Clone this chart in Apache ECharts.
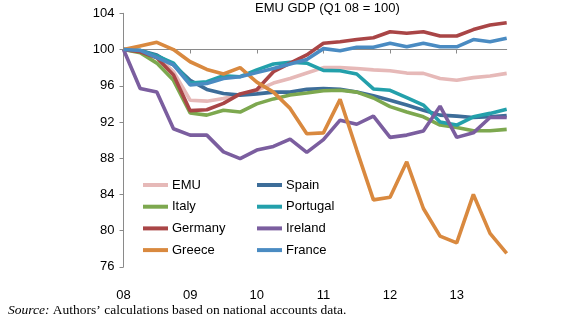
<!DOCTYPE html>
<html>
<head>
<meta charset="utf-8">
<script src="https://cdn.jsdelivr.net/npm/echarts@6/dist/echarts.min.js"></script>
<style>
html,body{margin:0;padding:0;background:#fff;}
#c{width:576px;height:324px;}
</style>
</head>
<body>
<div id="c"></div>
<script>
const years = ['08','09','10','11','12','13'];
const quarters = ['Q1','Q2','Q3','Q4'];
const yTicks = {min: 76, max: 104, step: 4};

const emu      = [100, 99.8, 99.3, 97.55, 94.4, 94.3, 94.6, 95.0, 95.5, 96.3, 96.8, 97.4, 98.0, 98.0, 97.9, 97.75, 97.65, 97.4, 97.37, 96.8, 96.6, 96.9, 97.07, 97.37];
const spain    = [100, 99.9, 99.4, 98.3, 96.6, 95.6, 95.15, 94.97, 95.1, 95.3, 95.3, 95.6, 95.7, 95.6, 95.3, 94.9, 94.4, 93.87, 93.3, 92.76, 92.65, 92.5, 92.57, 92.7];
const italy    = [100, 99.65, 98.5, 96.6, 93.0, 92.76, 93.3, 93.1, 94.0, 94.55, 94.97, 95.2, 95.45, 95.5, 95.3, 94.65, 93.7, 93.1, 92.57, 91.66, 91.4, 91.03, 91.03, 91.18];
const portugal = [100, 99.9, 99.3, 98.5, 96.3, 96.45, 97.1, 97.0, 97.75, 98.4, 98.6, 98.5, 97.7, 97.65, 97.3, 95.65, 95.5, 94.7, 93.87, 92.0, 91.66, 92.57, 92.95, 93.4];
const germany  = [100, 99.75, 99.1, 97.2, 93.25, 93.35, 94.05, 95.1, 95.55, 97.55, 98.5, 99.4, 100.7, 100.85, 101.1, 101.3, 101.97, 101.8, 101.97, 101.5, 101.5, 102.2, 102.7, 102.96];
const ireland  = [100, 95.7, 95.3, 91.25, 90.55, 90.55, 88.7, 87.95, 88.9, 89.3, 90.1, 88.65, 90.05, 92.2, 91.75, 92.65, 90.3, 90.55, 91.0, 93.75, 90.3, 90.8, 92.5, 92.5];
const greece   = [100, 100.4, 100.8, 100.0, 98.65, 97.8, 97.3, 98.0, 96.4, 95.3, 93.5, 90.7, 90.8, 94.5, 88.9, 83.4, 83.7, 87.6, 82.45, 79.4, 78.65, 84.0, 79.7, 77.5];
const france   = [100, 99.9, 99.1, 98.3, 96.1, 96.25, 96.8, 97.0, 97.45, 97.9, 98.4, 98.9, 100.1, 99.87, 100.25, 100.25, 100.7, 100.3, 100.7, 100.3, 100.3, 101.1, 100.86, 101.24];

const seriesNames = ['EMU','Spain','Italy','Portugal','Germany','Ireland','Greece','France'];
const seriesData = [emu, spain, italy, portugal, germany, ireland, greece, france];
const colors = ['#E6B9B8','#3D6D99','#7DA84F','#23A0AB','#A94546','#7B5E9F','#D9893F','#4A8BC2'];

const titleText = 'EMU GDP (Q1 08 = 100)';
const sourceLabel = 'Source:';
const sourceText = ' Authors\u2019 calculations based on national accounts data.';

const categories = [];
years.forEach(y => quarters.forEach(q => categories.push(q + ' ' + y)));

const chart = echarts.init(document.getElementById('c'), null, {renderer: 'canvas'});
const FONT = '"Liberation Sans", Arial, sans-serif';
const SERIF = '"Liberation Serif", "Times New Roman", serif';

const legendBase = {
  orient: 'vertical',
  icon: 'rect',
  itemWidth: 25,
  itemHeight: 4,
  itemGap: 7.7,
  top: 178,
  textStyle: {fontFamily: FONT, fontSize: 13, color: '#000', lineHeight: 14, padding: [0,0,0,-1]},
  padding: 0,
  selectedMode: false
};

chart.setOption({
  animation: false,
  color: colors,
  grid: {left: 123.5, right: 69.3, top: 13.3, bottom: 57.1},
  graphic: [
    {type: 'text', left: 255, top: 2, style: {text: titleText, font: '13px ' + FONT, fill: '#000'}},
    {type: 'text', left: 8, top: 303, style: {
      text: '{i|' + sourceLabel + '}{n|' + sourceText + '}',
      rich: {
        i: {fontFamily: SERIF, fontStyle: 'italic', fontSize: 13.5, fill: '#000'},
        n: {fontFamily: SERIF, fontSize: 13.5, fill: '#000'}
      }
    }}
  ],
  legend: [
    Object.assign({}, legendBase, {left: 143, data: ['EMU','Italy','Germany','Greece']}),
    Object.assign({}, legendBase, {left: 257, data: ['Spain','Portugal','Ireland','France']})
  ],
  xAxis: [
    {
      type: 'category', data: categories, boundaryGap: false, position: 'bottom',
      axisLine: {show: false}, axisTick: {show: false},
      axisLabel: {interval: 3, margin: 22, fontFamily: FONT, fontSize: 13, color: '#000',
        formatter: v => v.slice(-2)},
      splitLine: {show: false}
    },
    {
      type: 'category', data: categories, boundaryGap: false, position: 'top', offset: -36.2,
      axisLine: {show: true, lineStyle: {color: '#8a8a8a', width: 1}},
      axisTick: {show: true, inside: true, interval: 3, length: 4, lineStyle: {color: '#8a8a8a'}},
      axisLabel: {show: false},
      splitLine: {show: false}
    }
  ],
  yAxis: {
    type: 'value', min: yTicks.min, max: yTicks.max, interval: yTicks.step,
    axisLine: {show: true, lineStyle: {color: '#8a8a8a', width: 1}},
    axisTick: {show: true, length: 4, lineStyle: {color: '#8a8a8a'}},
    axisLabel: {margin: 9, fontFamily: FONT, fontSize: 13, color: '#000'},
    splitLine: {show: false}
  },
  series: seriesNames.map((n, i) => ({
    name: n, type: 'line', data: seriesData[i], xAxisIndex: 0,
    showSymbol: false, symbol: 'none', smooth: false,
    lineStyle: {width: 3.6, color: colors[i]},
    itemStyle: {color: colors[i]}
  }))
});
</script>
</body>
</html>
